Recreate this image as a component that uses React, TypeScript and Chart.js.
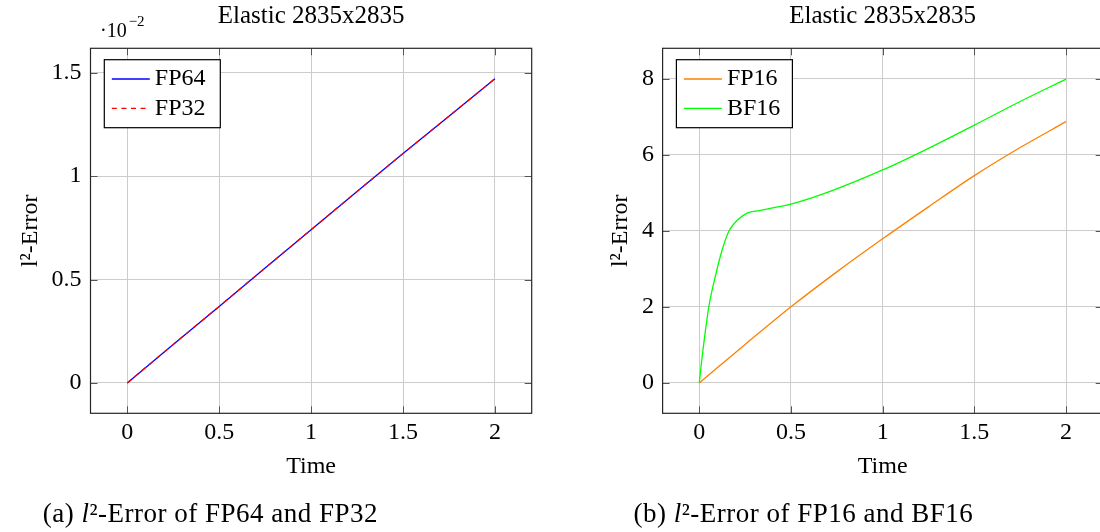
import React, { useEffect, useRef } from "react";
import { Chart, registerables } from "chart.js";

Chart.register(...registerables);

const FONT = "'Liberation Serif', 'Times New Roman', serif";

// ---------- shared text & ticks ----------
const chartTitle = "Elastic 2835x2835";
const xAxisTitle = "Time";
const yAxisTitle = "l²-Error";
const timeTicks = [0, 0.5, 1, 1.5, 2];
const timeTickLabels = ["0", "0.5", "1", "1.5", "2"];

// ---------- panel (a): FP64 / FP32 ----------
const highTime = [0, 0.25, 0.5, 0.75, 1, 1.25, 1.5, 1.75, 2];
const fp64Error = [0, 0.00186, 0.0037, 0.00556, 0.00741, 0.00926, 0.01109, 0.0129, 0.01471];
const fp32Error = [0, 0.00186, 0.0037, 0.00556, 0.00741, 0.00926, 0.01109, 0.0129, 0.01471];
const highErrorTicks = [0, 0.005, 0.01, 0.015];
const highErrorTickLabels = ["0", "0.5", "1", "1.5"];
const highScaleBase = "·10";
const highScaleExp = "−2";
const captionA = ["(a) ", "l", "²-Error of FP64 and FP32"];

// ---------- panel (b): FP16 / BF16 ----------
const fp16Time = [0, 0.25, 0.5, 0.75, 1, 1.25, 1.5, 1.75, 2];
const fp16Error = [0, 1.01, 2.0, 2.92, 3.79, 4.63, 5.45, 6.19, 6.87];
const bf16Time = [0, 0.016, 0.052, 0.092, 0.125, 0.161, 0.21, 0.264, 0.328, 0.42, 0.5, 0.71, 1.0, 1.25, 1.5, 1.75, 2.0];
const bf16Error = [0, 0.7, 2.0, 2.89, 3.5, 3.99, 4.29, 4.47, 4.53, 4.62, 4.7, 5.03, 5.6, 6.17, 6.78, 7.4, 7.99];
const lowErrorTicks = [0, 2, 4, 6, 8];
const lowErrorTickLabels = ["0", "2", "4", "6", "8"];
const captionB = ["(b) ", "l", "²-Error of FP16 and BF16"];

type Panel = {
  canvasW: number;
  yScaleWidth: number;
  yTickPad: number;
  yTitlePad: number;
  padRight: number;
  xRange: [number, number];
  yRange: [number, number];
  yTicks: number[];
  yTickLabels: string[];
  datasets: any[];
  caption: string[];
  captionX: number;
  exponent: boolean;
};

const toPoints = (xs: number[], ys: number[]) => xs.map((x, i) => ({ x, y: ys[i] }));

const panels: Panel[] = [
  {
    canvasW: 550,
    yScaleWidth: 90.5,
    yTickPad: 9,
    yTitlePad: 16.6,
    padRight: 18.3,
    xRange: [-0.2, 2.2],
    yRange: [-0.00147, 0.01618],
    yTicks: highErrorTicks,
    yTickLabels: highErrorTickLabels,
    datasets: [
      { label: "FP64", data: toPoints(highTime, fp64Error), borderColor: "#0000ff", borderWidth: 1.3, borderDash: [], order: 1 },
      { label: "FP32", data: toPoints(highTime, fp32Error), borderColor: "#ff0000", borderWidth: 1.3, borderDash: [5, 4.6], order: 0 },
    ],
    caption: captionA,
    captionX: 42.8,
    exponent: true,
  },
  {
    canvasW: 580,
    yScaleWidth: 112.6,
    yTickPad: 8.5,
    yTitlePad: 56.6,
    padRight: 27.3,
    xRange: [-0.2, 2.2],
    yRange: [-0.8, 8.8],
    yTicks: lowErrorTicks,
    yTickLabels: lowErrorTickLabels,
    datasets: [
      { label: "FP16", data: toPoints(fp16Time, fp16Error), borderColor: "#ff8000", borderWidth: 1.3, borderDash: [], cubicInterpolationMode: "monotone" },
      { label: "BF16", data: toPoints(bf16Time, bf16Error), borderColor: "#00ff00", borderWidth: 1.3, borderDash: [], cubicInterpolationMode: "monotone" },
    ],
    caption: captionB,
    captionX: 83.5,
    exponent: false,
  },
];

function makeChart(canvas: HTMLCanvasElement, p: Panel) {
  const decor = {
    id: "decor",
    afterDatasetsDraw(chart: any) {
      const { ctx, chartArea: a, scales } = chart;
      ctx.save();
      // inner tick marks on all four sides
      ctx.strokeStyle = "#555555";
      ctx.lineWidth = 1;
      ctx.beginPath();
      for (const v of timeTicks) {
        const px = Math.round(scales.x.getPixelForValue(v)) + 0.5;
        ctx.moveTo(px, a.bottom);
        ctx.lineTo(px, a.bottom - 7);
        ctx.moveTo(px, a.top);
        ctx.lineTo(px, a.top + 7);
      }
      for (const v of p.yTicks) {
        const py = Math.round(scales.y.getPixelForValue(v)) + 0.5;
        ctx.moveTo(a.left, py);
        ctx.lineTo(a.left + 7, py);
        ctx.moveTo(a.right, py);
        ctx.lineTo(a.right - 7, py);
      }
      ctx.stroke();
      // frame
      ctx.strokeStyle = "#262626";
      ctx.lineWidth = 1.2;
      ctx.strokeRect(a.left, a.top, a.right - a.left, a.bottom - a.top);

      // legend
      const lx = a.left + 13.8;
      const ly = a.top + 11.4;
      const lw = 116;
      const lh = 68;
      ctx.fillStyle = "#ffffff";
      ctx.fillRect(lx, ly, lw, lh);
      ctx.strokeStyle = "#000000";
      ctx.lineWidth = 1.2;
      ctx.strokeRect(lx, ly, lw, lh);
      const rows = [19.3, 48.6];
      chart.data.datasets.forEach((ds: any, i: number) => {
        const y = ly + rows[i];
        ctx.strokeStyle = ds.borderColor;
        ctx.lineWidth = 1.3;
        ctx.setLineDash(ds.borderDash || []);
        ctx.beginPath();
        ctx.moveTo(lx + 7.5, y);
        ctx.lineTo(lx + 45.5, y);
        ctx.stroke();
        ctx.setLineDash([]);
        ctx.fillStyle = "#000000";
        ctx.font = `24px ${FONT}`;
        ctx.textBaseline = "middle";
        ctx.textAlign = "left";
        ctx.fillText(ds.label, lx + 50.5, y);
      });
      ctx.restore();
    },
    afterDraw(chart: any) {
      const { ctx, chartArea: a } = chart;
      ctx.save();
      ctx.fillStyle = "#000000";
      ctx.textBaseline = "middle";
      ctx.textAlign = "left";
      if (p.exponent) {
        ctx.font = `20px ${FONT}`;
        ctx.fillText(highScaleBase, a.left + 9.5, a.top - 17);
        const w = ctx.measureText(highScaleBase).width;
        ctx.font = `15px ${FONT}`;
        ctx.fillText(highScaleExp, a.left + 9.5 + w + 2, a.top - 26.5);
      }
      // caption
      let x = p.captionX;
      const y = 515;
      try {
        (ctx as any).letterSpacing = "0.5px";
      } catch (e) {}
      p.caption.forEach((t, i) => {
        ctx.font = `${i === 1 ? "italic " : ""}27px ${FONT}`;
        ctx.fillText(t, x, y);
        x += ctx.measureText(t).width;
      });
      ctx.restore();
    },
  };

  return new Chart(canvas, {
    type: "line",
    data: {
      datasets: p.datasets.map((d) => ({
        ...d,
        pointRadius: 0,
        fill: false,
        tension: 0,
      })),
    },
    options: {
      animation: false,
      responsive: false,
      layout: { padding: { left: 0, top: 0, right: p.padRight, bottom: 50.9 } },
      plugins: {
        legend: { display: false },
        tooltip: { enabled: false },
        title: {
          display: true,
          text: chartTitle,
          fullSize: false,
          color: "#000",
          font: { family: FONT, size: 25, weight: "normal", lineHeight: 1.2 },
          padding: { top: 1.7, bottom: 16.6 },
        },
      },
      scales: {
        x: {
          type: "linear",
          min: p.xRange[0],
          max: p.xRange[1],
          afterBuildTicks: (s: any) => {
            s.ticks = timeTicks.map((v) => ({ value: v }));
          },
          afterFit: (s: any) => {
            s.height = 67.8;
          },
          grid: { color: "#cccccc", lineWidth: 1, drawTicks: false },
          border: { display: false },
          ticks: {
            color: "#000",
            padding: 4.8,
            maxRotation: 0,
            autoSkip: false,
            font: { family: FONT, size: 24, lineHeight: 1.2 },
            callback: (_v: any, i: number) => timeTickLabels[i],
          },
          title: {
            display: true,
            text: xAxisTitle,
            color: "#000",
            font: { family: FONT, size: 24, lineHeight: 1.2 },
            padding: { top: 0, bottom: 0 },
          },
        },
        y: {
          type: "linear",
          min: p.yRange[0],
          max: p.yRange[1],
          afterBuildTicks: (s: any) => {
            s.ticks = p.yTicks.map((v) => ({ value: v }));
          },
          afterFit: (s: any) => {
            s.width = p.yScaleWidth;
          },
          grid: { color: "#cccccc", lineWidth: 1, drawTicks: false },
          border: { display: false },
          ticks: {
            color: "#000",
            padding: p.yTickPad,
            autoSkip: false,
            font: { family: FONT, size: 24, lineHeight: 1.2 },
            callback: (_v: any, i: number) => p.yTickLabels[i],
          },
          title: {
            display: true,
            text: yAxisTitle,
            color: "#000",
            font: { family: FONT, size: 24, lineHeight: 1.2 },
            padding: { top: p.yTitlePad, bottom: 0 },
          },
        },
      },
    } as any,
    plugins: [decor],
  });
}

export default function App() {
  const leftRef = useRef<HTMLCanvasElement | null>(null);
  const rightRef = useRef<HTMLCanvasElement | null>(null);

  useEffect(() => {
    const charts: Chart[] = [];
    if (leftRef.current) charts.push(makeChart(leftRef.current, panels[0]));
    if (rightRef.current) charts.push(makeChart(rightRef.current, panels[1]));
    return () => charts.forEach((c) => c.destroy());
  }, []);

  return (
    <div
      style={{
        position: "absolute",
        left: 0,
        top: 0,
        width: 1100,
        height: 532,
        overflow: "hidden",
        background: "#ffffff",
      }}
    >
      <canvas
        ref={leftRef}
        width={panels[0].canvasW}
        height={532}
        style={{ position: "absolute", left: 0, top: 0, width: panels[0].canvasW, height: 532 }}
      />
      <canvas
        ref={rightRef}
        width={panels[1].canvasW}
        height={532}
        style={{ position: "absolute", left: 550, top: 0, width: panels[1].canvasW, height: 532 }}
      />
    </div>
  );
}
